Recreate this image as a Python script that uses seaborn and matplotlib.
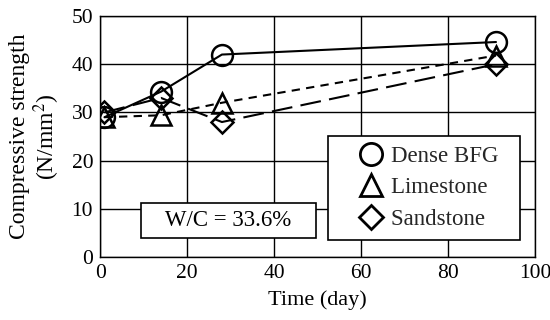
import matplotlib
matplotlib.use("Agg")
import matplotlib.pyplot as plt
import seaborn as sns
import pandas as pd
from matplotlib.lines import Line2D

days = [1, 14, 28, 91]
dense_bfg = [29.0, 34.3, 42.0, 44.6]
limestone = [29.0, 29.4, 32.0, 41.8]
sandstone = [30.0, 33.0, 28.0, 40.0]

series_names = ["Dense BFG", "Limestone", "Sandstone"]

df = pd.DataFrame({
    "day": days * 3,
    "strength": dense_bfg + limestone + sandstone,
    "agg": sum([[n] * len(days) for n in series_names], []),
})

sns.set_theme(style="white")
plt.rcParams["font.family"] = ["Liberation Serif", "DejaVu Serif"]
plt.rcParams["mathtext.fontset"] = "stix"

fig = plt.figure(figsize=(5.5, 3.2), dpi=100)
ax = fig.add_axes([0.182, 0.197, 0.791, 0.753])

markers = {"Dense BFG": "o", "Limestone": "^", "Sandstone": "D"}
sizes = {"Dense BFG": 15, "Limestone": 15, "Sandstone": 11}
dashes = {"Dense BFG": "-", "Limestone": (0, (4, 3)), "Sandstone": (0, (10, 4))}

for name in series_names:
    sub = df[df["agg"] == name]
    sns.lineplot(data=sub, x="day", y="strength", ax=ax, color="black", lw=1.5,
                 linestyle=dashes[name], marker=markers[name], markersize=sizes[name],
                 markerfacecolor="none", markeredgecolor="black", markeredgewidth=1.8,
                 legend=False)

ax.set_xlim(0, 100)
ax.set_ylim(0, 50)
ax.set_xticks(range(0, 101, 20))
ax.set_yticks(range(0, 51, 10))
ax.grid(True, color="black", lw=1.0)
ax.set_axisbelow(True)
for s in ax.spines.values():
    s.set_color("black")
    s.set_linewidth(1.0)
ax.tick_params(labelsize=15.5, length=0, pad=5, colors="black")
ax.set_xlabel("Time (day)", fontsize=16, color="black", labelpad=5)
ax.set_ylabel("Compressive strength\n(N/mm$^2$)", fontsize=17, color="black",
              labelpad=7, linespacing=1.05)

handles = [Line2D([], [], ls="none", marker=markers[n], markersize=sizes[n] + 1,
                  markerfacecolor="white", markeredgecolor="black", markeredgewidth=2.0)
           for n in series_names]
leg = ax.legend(handles, [n + "  " for n in series_names], loc="lower right",
                bbox_to_anchor=(0.965, 0.07),
                fontsize=16.5, frameon=True, fancybox=False, edgecolor="black",
                framealpha=1, handletextpad=-0.6, borderpad=0.45, labelspacing=0.45,
                handlelength=2.9, borderaxespad=0)
leg.get_frame().set_linewidth(1.2)

ax.text(29.5, 7.5, "   W/C = 33.6%   ", fontsize=16.5, ha="center", va="center",
        color="black",
        bbox=dict(boxstyle="square,pad=0.3", fc="white", ec="black", lw=1.2))

fig.savefig("out.png", dpi=100)
